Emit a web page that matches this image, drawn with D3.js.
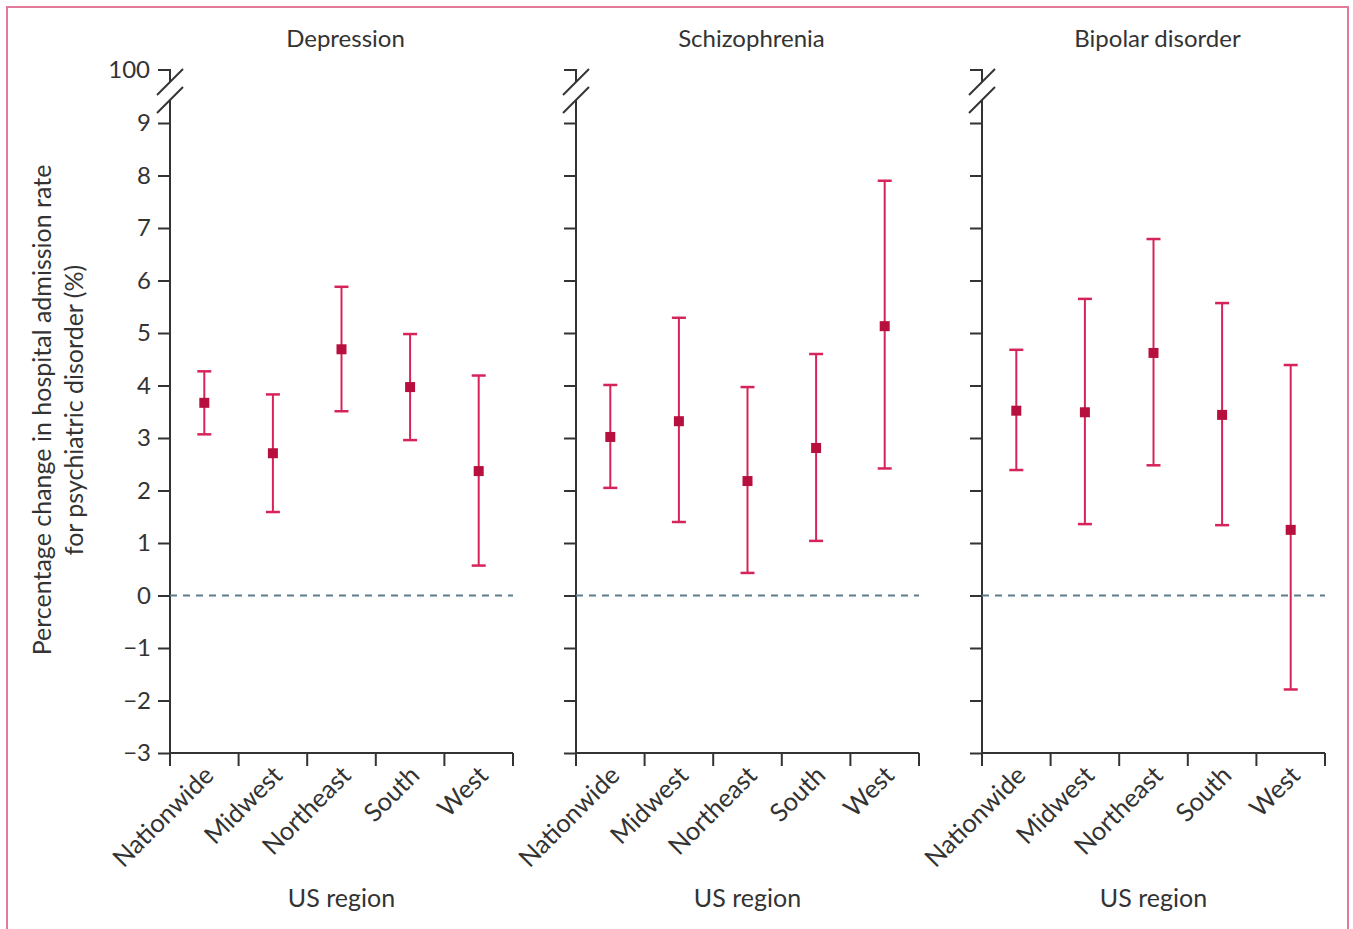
<!DOCTYPE html>
<html>
<head>
<meta charset="utf-8">
<script src="https://cdn.jsdelivr.net/npm/d3@7"></script>
<style>
  body { margin: 0; background: #fff; }
  svg { display: block; font-family: Lato, "Open Sans", sans-serif; }
</style>
</head>
<body>
<script>
var regions = ['Nationwide', 'Midwest', 'Northeast', 'South', 'West']
var disorders = ['Depression', 'Schizophrenia', 'Bipolar disorder']
var yTicks = [-3, -2, -1, 0, 1, 2, 3, 4, 5, 6, 7, 8, 9]

// estimate, lower CI, upper CI per region
var depression = [[3.67, 3.07, 4.27], [2.71, 1.59, 3.83], [4.69, 3.51, 5.88], [3.97, 2.96, 4.98], [2.37, 0.57, 4.19]]
var schizophrenia = [[3.02, 2.05, 4.01], [3.32, 1.40, 5.29], [2.18, 0.43, 3.97], [2.81, 1.04, 4.60], [5.13, 2.42, 7.90]]
var bipolar = [[3.52, 2.39, 4.68], [3.49, 1.36, 5.65], [4.62, 2.48, 6.79], [3.44, 1.34, 5.57], [1.25, -1.79, 4.39]]
var allData = [depression, schizophrenia, bipolar]

;(function() {
  var W = 1353, H = 929
  var svg = d3.select('body').append('svg').attr('width', W).attr('height', H)

  svg.append('rect')
    .attr('x', 7).attr('y', 7).attr('width', 1341).attr('height', 940)
    .attr('fill', 'none').attr('stroke', '#e47a9a').attr('stroke-width', 2)

  var panelX = [170, 576, 982]
    , panelW = 343
    , plotTop = 123
    , plotBottom = 753
    , breakY = 70
    , axisCol = '#333'
    , barCol = '#d6245a'
    , dotCol = '#b8103e'
    , fs = '24px'

  var y = d3.scaleLinear().domain([-3, 9]).range([plotBottom, plotTop])

  panelX.forEach(function(px, p) {
    var g = svg.append('g')
    var x = d3.scaleBand().domain(regions).range([px, px + panelW])

    // y axis
    var yAxis = d3.axisLeft(y).tickValues(yTicks).tickSize(12).tickPadding(7)
      .tickFormat(function(d) { return p === 0 ? (d < 0 ? '\u2212' + (-d) : d) : '' })
    var ya = g.append('g').attr('transform', 'translate(' + px + ',0)').call(yAxis)
    ya.attr('font-family', null).attr('font-size', null)
    ya.select('.domain').remove()
    ya.selectAll('line').attr('stroke', axisCol).attr('stroke-width', 2)
    ya.selectAll('text').attr('fill', '#333').style('font-size', fs)

    g.append('line').attr('x1', px).attr('x2', px).attr('y1', 100).attr('y2', plotBottom)
      .attr('stroke', axisCol).attr('stroke-width', 2)

    // break with 100 tick
    g.append('path').attr('d', 'M' + (px - 12) + ',' + breakY + 'H' + px + 'V' + (breakY + 12))
      .attr('fill', 'none').attr('stroke', axisCol).attr('stroke-width', 2)
    ;[[95, 69], [113, 87]].forEach(function(s) {
      g.append('line').attr('x1', px - 13).attr('y1', s[0]).attr('x2', px + 13).attr('y2', s[1])
        .attr('stroke', axisCol).attr('stroke-width', 2)
    })
    if (p === 0) {
      g.append('text').attr('x', px - 20).attr('y', breakY + 8).attr('text-anchor', 'end')
        .attr('fill', '#333').style('font-size', fs).text('100')
    }

    // x axis
    g.append('line').attr('x1', px).attr('x2', px + panelW).attr('y1', plotBottom).attr('y2', plotBottom)
      .attr('stroke', axisCol).attr('stroke-width', 2)
    var bounds = regions.map(function(r) { return x(r) }).concat([px + panelW])
    g.selectAll('.xt').data(bounds).enter().append('line')
      .attr('x1', function(d) { return d }).attr('x2', function(d) { return d })
      .attr('y1', plotBottom).attr('y2', plotBottom + 13)
      .attr('stroke', axisCol).attr('stroke-width', 2)
    g.selectAll('.xl').data(regions).enter().append('text')
      .attr('transform', function(d) {
        return 'translate(' + (x(d) + x.bandwidth() / 2 + 11) + ',' + (plotBottom + 24) + ') rotate(-45)'
      })
      .attr('text-anchor', 'end').attr('fill', '#333').style('font-size', '25.5px')
      .text(function(d) { return d })

    // zero line
    g.append('line').attr('x1', px).attr('x2', px + panelW).attr('y1', y(0)).attr('y2', y(0))
      .attr('stroke', '#5f7d8c').attr('stroke-width', 2).attr('stroke-dasharray', '7,6')

    // titles
    g.append('text').attr('x', px + panelW / 2 + 4).attr('y', 47).attr('text-anchor', 'middle')
      .attr('fill', '#333').style('font-size', fs).text(disorders[p])
    g.append('text').attr('x', px + panelW / 2).attr('y', 907).attr('text-anchor', 'middle')
      .attr('fill', '#333').style('font-size', '25px').text('US region')

    // error bars
    var data = allData[p]
    var pts = g.selectAll('.pt').data(data).enter().append('g')
      .attr('transform', function(d, i) { return 'translate(' + (x(regions[i]) + x.bandwidth() / 2) + ',0)' })
    pts.append('line').attr('y1', function(d) { return y(d[1]) }).attr('y2', function(d) { return y(d[2]) })
      .attr('stroke', barCol).attr('stroke-width', 2)
    pts.append('line').attr('x1', -7).attr('x2', 7)
      .attr('y1', function(d) { return y(d[1]) }).attr('y2', function(d) { return y(d[1]) })
      .attr('stroke', barCol).attr('stroke-width', 2.5)
    pts.append('line').attr('x1', -7).attr('x2', 7)
      .attr('y1', function(d) { return y(d[2]) }).attr('y2', function(d) { return y(d[2]) })
      .attr('stroke', barCol).attr('stroke-width', 2.5)
    pts.append('rect').attr('x', -5).attr('width', 10).attr('height', 10)
      .attr('y', function(d) { return y(d[0]) - 5 })
      .attr('fill', dotCol)
  })

  // y label
  svg.append('text').attr('transform', 'translate(51,410) rotate(-90)').attr('text-anchor', 'middle')
    .attr('fill', '#333').style('font-size', '25px').text('Percentage change in hospital admission rate')
  svg.append('text').attr('transform', 'translate(83,410) rotate(-90)').attr('text-anchor', 'middle')
    .attr('fill', '#333').style('font-size', '25px').text('for psychiatric disorder (%)')
})()
</script>
</body>
</html>
